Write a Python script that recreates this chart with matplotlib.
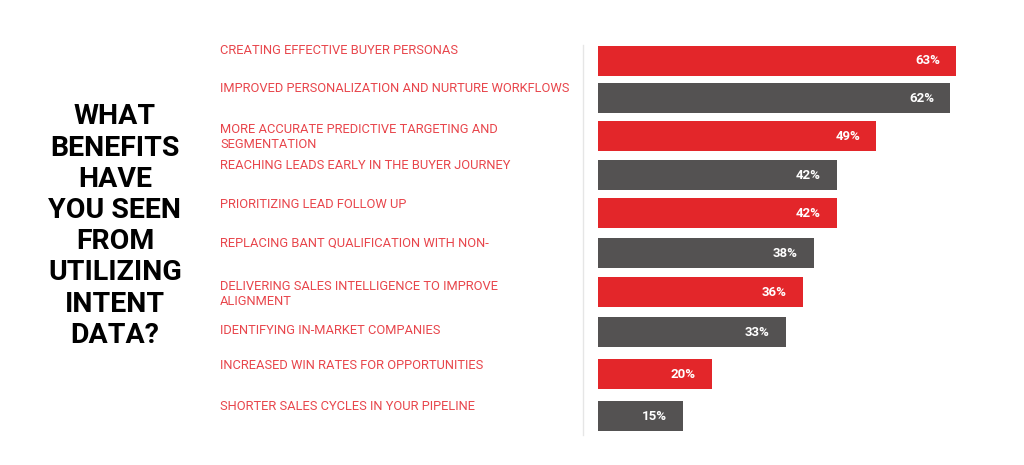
import matplotlib
matplotlib.use("Agg")
import matplotlib.pyplot as plt

plt.rcParams['font.family'] = ['Roboto', 'DejaVu Sans']

labels = [
    "CREATING EFFECTIVE BUYER PERSONAS",
    "IMPROVED PERSONALIZATION AND NURTURE WORKFLOWS",
    "MORE ACCURATE PREDICTIVE TARGETING AND\nSEGMENTATION",
    "REACHING LEADS EARLY IN THE BUYER JOURNEY",
    "PRIORITIZING LEAD FOLLOW UP",
    "REPLACING BANT QUALIFICATION WITH NON-",
    "DELIVERING SALES INTELLIGENCE TO IMPROVE\nALIGNMENT",
    "IDENTIFYING IN-MARKET COMPANIES",
    "INCREASED WIN RATES FOR OPPORTUNITIES",
    "SHORTER SALES CYCLES IN YOUR PIPELINE",
]
values = [63, 62, 49, 42, 42, 38, 36, 33, 20, 15]
label_y = [51, 89, 137, 165, 204, 243, 294, 330, 365, 406]  # pixel rows of label text
bar_y = [61, 98, 136, 175, 213, 253, 292, 332, 374, 416]

red = "#E3262A"
gray = "#545252"
W, H = 1024, 465

fig = plt.figure(figsize=(W / 100, H / 100), dpi=100)
ax = fig.add_axes([0, 0, 1, 1])
ax.set_xlim(0, W)
ax.set_ylim(H, 0)
ax.axis("off")

scale = 358 / 63
for i, (lab, v, ly, by) in enumerate(zip(labels, values, label_y, bar_y)):
    c = red if i % 2 == 0 else gray
    ax.barh(by, v * scale, left=598, height=30, color=c)
    ax.text(598 + v * scale - 16, by, f"{v}%", color="white", fontsize=9.5,
            fontweight="bold", ha="right", va="center")
    ax.text(220, ly, lab, color="#E8464C", fontsize=9.25, ha="left", va="center",
            linespacing=1.25)

ax.plot([583, 583], [45, 435], color="#e6e6e6", lw=1)

ax.text(115, 226, "WHAT\nBENEFITS\nHAVE\nYOU SEEN\nFROM\nUTILIZING\nINTENT\nDATA?",
        ha="center", va="center", fontsize=20.5, fontweight="bold",
        color="black", linespacing=1.2)

fig.savefig("out.png", dpi=100)
